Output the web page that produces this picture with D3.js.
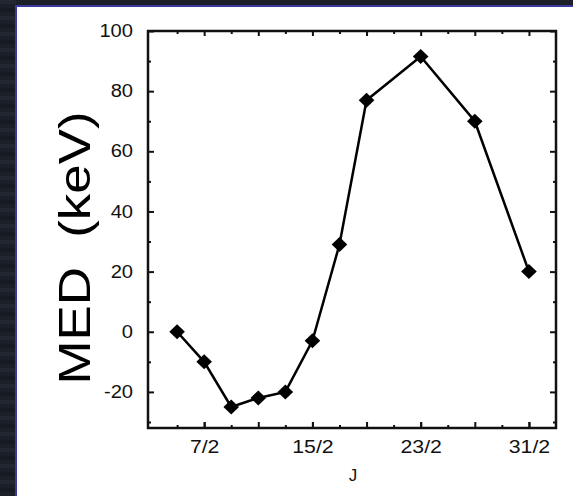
<!DOCTYPE html>
<html>
<head>
<meta charset="utf-8">
<script src="https://cdn.jsdelivr.net/npm/d3@7"></script>
<style>
  body { margin: 0; background: #1b2028; }
  svg { display: block; }
  text { font-family: "Liberation Sans", Arial, sans-serif; fill: #111; }
</style>
</head>
<body>
<div id="chart"></div>
<script>
// day of month (x) and MED value in keV (y)
const days = [5, 7, 9, 11, 13, 15, 17, 19, 23, 27, 31]
const med = [0, -10, -25, -22, -20, -3, 29, 77, 91.5, 70, 20]

const xTickLabels = [7, 15, 23, 31]
const xMajorTicks = [7, 11, 15, 19, 23, 27, 31]
const xMinorTicks = [5, 9, 13, 17, 21, 25, 29]
const yTickLabels = [-20, 0, 20, 40, 60, 80, 100]
const yMinorTicks = [-30, -10, 10, 30, 50, 70, 90]

const width = 573
const height = 496
const frame = { left: 148, right: 556, top: 31, bottom: 428 }

const svg = d3.select('#chart')
  .append('svg')
  .attr('width', width)
  .attr('height', height)

// dark slide background with some banding
svg.append('rect')
  .attr('width', width).attr('height', height)
  .attr('fill', '#1b2028')
for (let i = 0; i < height; i += 8) {
  svg.append('rect')
    .attr('x', 0).attr('y', i).attr('width', 16).attr('height', 4)
    .attr('fill', i % 16 === 0 ? '#222831' : '#161a21')
}

// white panel with blue edge
svg.append('rect')
  .attr('x', 16).attr('y', 6)
  .attr('width', width - 16 + 2).attr('height', height - 6 + 2)
  .attr('fill', '#fff')
  .attr('stroke', '#3a3a9c')
  .attr('stroke-width', 2)

const x = d3.scaleLinear().domain([2.85, 33]).range([frame.left, frame.right])
const y = d3.scaleLinear().domain([-32, 100]).range([frame.bottom, frame.top])

function stretch (sel, k) {
  sel.selectAll('text').each(function () {
    const len = this.getComputedTextLength()
    d3.select(this)
      .attr('textLength', len * k)
      .attr('lengthAdjust', 'spacingAndGlyphs')
  })
}

function tickAxis (axis, values, size, tx, ty) {
  const g = svg.append('g')
    .attr('transform', `translate(${tx},${ty})`)
    .call(axis.tickValues(values).tickSize(size).tickFormat(''))
  g.select('.domain').remove()
  g.selectAll('line').attr('stroke', '#111').attr('stroke-width', 2)
  return g
}

// bottom
const xb = svg.append('g')
  .attr('transform', `translate(0,${frame.bottom})`)
  .call(d3.axisBottom(x).tickValues(xTickLabels).tickSizeInner(-6).tickSizeOuter(0)
    .tickPadding(12).tickFormat(d => d + '/2'))
xb.select('.domain').remove()
xb.selectAll('line').attr('stroke', '#111').attr('stroke-width', 2)
xb.selectAll('text').style('font-size', '18.5px').attr('fill', '#1a1a1a')
stretch(xb, 1.15)

tickAxis(d3.axisBottom(x), xMajorTicks, -6, 0, frame.bottom)
tickAxis(d3.axisBottom(x), xMinorTicks, -3, 0, frame.bottom)
tickAxis(d3.axisTop(x), xMajorTicks, -5, 0, frame.top)
tickAxis(d3.axisTop(x), xMinorTicks, -3, 0, frame.top)

// left
const yl = svg.append('g')
  .attr('transform', `translate(${frame.left},0)`)
  .call(d3.axisLeft(y).tickValues(yTickLabels).tickSizeInner(-6).tickSizeOuter(0)
    .tickPadding(15).tickFormat(d => String(d)))
yl.select('.domain').remove()
yl.selectAll('line').attr('stroke', '#111').attr('stroke-width', 2)
yl.selectAll('text').style('font-size', '17.5px').attr('fill', '#1a1a1a')
stretch(yl, 1.15)

tickAxis(d3.axisLeft(y), yMinorTicks, -3, frame.left, 0)
tickAxis(d3.axisRight(y), yTickLabels, -6, frame.right, 0)
tickAxis(d3.axisRight(y), yMinorTicks, -3, frame.right, 0)

// frame
svg.append('rect')
  .attr('x', frame.left).attr('y', frame.top)
  .attr('width', frame.right - frame.left).attr('height', frame.bottom - frame.top)
  .attr('fill', 'none')
  .attr('stroke', '#111')
  .attr('stroke-width', 2.5)

// axis titles
svg.append('text')
  .attr('x', 353).attr('y', 481)
  .attr('text-anchor', 'middle')
  .style('font-size', '17px')
  .text('J')

svg.append('text')
  .attr('transform', 'translate(90,248) rotate(-90)')
  .attr('text-anchor', 'middle')
  .attr('textLength', 273)
  .attr('lengthAdjust', 'spacingAndGlyphs')
  .style('font-size', '44px')
  .style('fill', '#000')
  .text('MED\u00a0\u00a0(keV)')

// series
const points = days.map((d, i) => [d, med[i]])
const line = d3.line().x(d => x(d[0])).y(d => y(d[1]))

svg.append('path')
  .datum(points)
  .attr('d', line)
  .attr('fill', 'none')
  .attr('stroke', '#000')
  .attr('stroke-width', 2.5)

svg.selectAll('.marker')
  .data(points)
  .enter()
  .append('path')
  .attr('class', 'marker')
  .attr('transform', d => `translate(${x(d[0])},${y(d[1])})`)
  .attr('d', 'M0,-7.5L7.8,0L0,7.5L-7.8,0Z')
  .attr('fill', '#000')
</script>
</body>
</html>
